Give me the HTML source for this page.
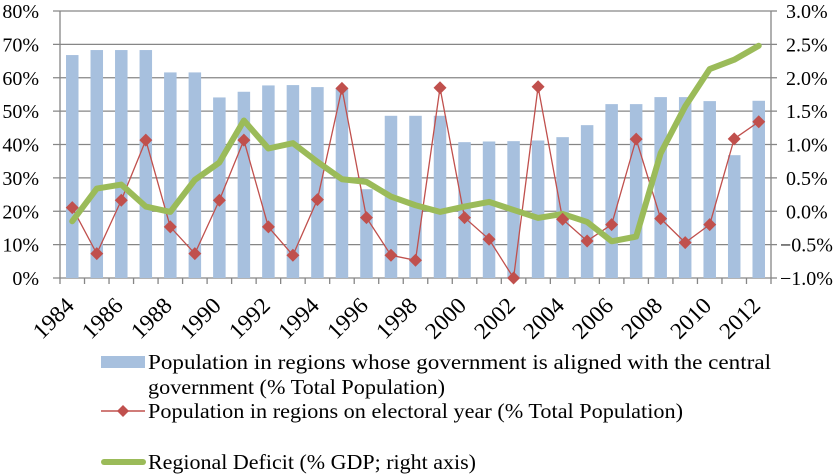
<!DOCTYPE html>
<html><head><meta charset="utf-8"><style>
html,body{margin:0;padding:0;background:#fff;}
svg{display:block;font-family:"Liberation Serif",serif;}
</style></head><body>
<svg id="chart" width="840" height="475" viewBox="0 0 840 475" xmlns="http://www.w3.org/2000/svg"></svg>
<script>
const years=[1984,1985,1986,1987,1988,1989,1990,1991,1992,1993,1994,1995,1996,1997,1998,1999,2000,2001,2002,2003,2004,2005,2006,2007,2008,2009,2010,2011,2012];
const alignedPop=[66.8,68.3,68.3,68.3,61.6,61.6,54.1,55.8,57.7,57.8,57.2,56.8,26.6,48.6,48.6,48.6,40.7,40.9,41.0,41.2,42.2,45.8,52.1,52.1,54.2,54.2,53.0,36.8,53.1];
const electoralPop=[21.1,7.3,23.3,41.3,15.3,7.3,23.3,41.3,15.3,6.8,23.5,56.8,18.1,6.8,5.3,57.0,18.1,11.6,0,57.3,17.6,11.1,16.0,41.6,17.8,10.6,16.0,41.7,46.8];
const deficit=[-0.15,0.34,0.40,0.07,-0.01,0.47,0.73,1.36,0.94,1.02,0.74,0.48,0.44,0.22,0.09,-0.01,0.07,0.14,0.02,-0.10,-0.04,-0.16,-0.45,-0.38,0.87,1.57,2.13,2.27,2.48];
const leftTicks=[0,10,20,30,40,50,60,70,80];
const rightTicks=[-1.0,-0.5,0,0.5,1.0,1.5,2.0,2.5,3.0];
const xLabels=[1984,1986,1988,1990,1992,1994,1996,1998,2000,2002,2004,2006,2008,2010,2012];

const NS="http://www.w3.org/2000/svg";
const svg=document.getElementById('chart');
const X0=60,X1=771,YT=11,YB=278;
const slot=(X1-X0)/years.length;
const xC=i=>X0+slot*(i+0.5);
const yL=v=>YB-(v/80)*(YB-YT);
const yR=v=>YB-((v+1)/4)*(YB-YT);
function mk(tag,attrs,parent){const e=document.createElementNS(NS,tag);for(const k in attrs)e.setAttribute(k,attrs[k]);(parent||svg).appendChild(e);return e;}

const grid=mk('g',{});


leftTicks.forEach(t=>{
  const y=yL(t);
  const l=mk('line',{x1:53,x2:X1,y1:y,y2:y,stroke:'#868686','stroke-width':1.3},grid);
  
  
  const tx=mk('text',{x:39,y:y+7,'font-size':20,'text-anchor':'end',fill:'#000'});
  tx.textContent=t+'%';
  
  
});
rightTicks.forEach(t=>{
  const y=yR(t);
  mk('line',{x1:X1,x2:X1+6,y1:y,y2:y,stroke:'#868686','stroke-width':1.3});
  const s=(t<0?'\u2212':'')+Math.abs(t).toFixed(1)+'%';
  const tx=mk('text',{x:t<0?780:786,y:y+7,'font-size':20,fill:'#000'});
  tx.textContent=s;
  
  
});
const la=mk('line',{x1:X0,x2:X0,y1:YT,y2:YB,stroke:'#868686','stroke-width':1.3});


const ra=mk('line',{x1:X1,x2:X1,y1:YT,y2:YB,stroke:'#868686','stroke-width':1.3});


for(let i=0;i<=years.length;i++){const x=X0+slot*i;mk('line',{x1:x,x2:x,y1:YB,y2:YB+6,stroke:'#868686','stroke-width':1.3});}
xLabels.forEach(yr=>{
  const i=years.indexOf(yr);const x=xC(i);
  const tx=mk('text',{x:0,y:0,'font-size':23,'text-anchor':'end',textLength:47,lengthAdjust:'spacingAndGlyphs',fill:'#000',transform:`translate(${x+3},${YB+29}) rotate(-45)`});
  tx.textContent=yr;
  
  
});
const bw=12.5;
alignedPop.forEach((v,i)=>{
  const b=mk('rect',{x:xC(i)-bw/2,y:yL(v),width:bw,height:YB-yL(v),fill:'#a7c0de'});
  
  
});
const ep=mk('polyline',{points:electoralPop.map((v,i)=>xC(i)+','+yL(v)).join(' '),fill:'none',stroke:'#c0504d','stroke-width':1.3});


const dl=mk('polyline',{points:deficit.map((v,i)=>xC(i)+','+yR(v)).join(' '),fill:'none',stroke:'#9bbb59','stroke-width':6,'stroke-linejoin':'round','stroke-linecap':'round'});


electoralPop.forEach((v,i)=>{
  const x=xC(i),y=yL(v),s=6.5;
  const m=mk('polygon',{points:`${x},${y-s} ${x+s},${y} ${x},${y+s} ${x-s},${y}`,fill:'#c0504d'});
  
  
});
</script>
<svg style="position:absolute;left:0;top:0" width="840" height="475">
  <g font-family="Liberation Serif, serif" font-size="21" fill="#000">
    <rect x="101" y="356" width="44" height="12" fill="#a7c0de"/>
    <text x="148" y="369" textLength="623" lengthAdjust="spacingAndGlyphs">Population in regions whose government is aligned with the central</text>
    <text x="148" y="394" textLength="297" lengthAdjust="spacingAndGlyphs">government (% Total Population)</text>
    <line x1="101" x2="145" y1="411" y2="411" stroke="#c0504d" stroke-width="1.5"/>
    <polygon points="123,405 129,411 123,417 117,411" fill="#c0504d"/>
    <text x="148" y="418" textLength="535" lengthAdjust="spacingAndGlyphs">Population in regions on electoral year (% Total Population)</text>
    <line x1="104" x2="143" y1="462" y2="462" stroke="#9bbb59" stroke-width="6" stroke-linecap="round"/>
    <text x="148" y="469" textLength="328" lengthAdjust="spacingAndGlyphs">Regional Deficit (% GDP; right axis)</text>
  </g>
</svg>
</body></html>
